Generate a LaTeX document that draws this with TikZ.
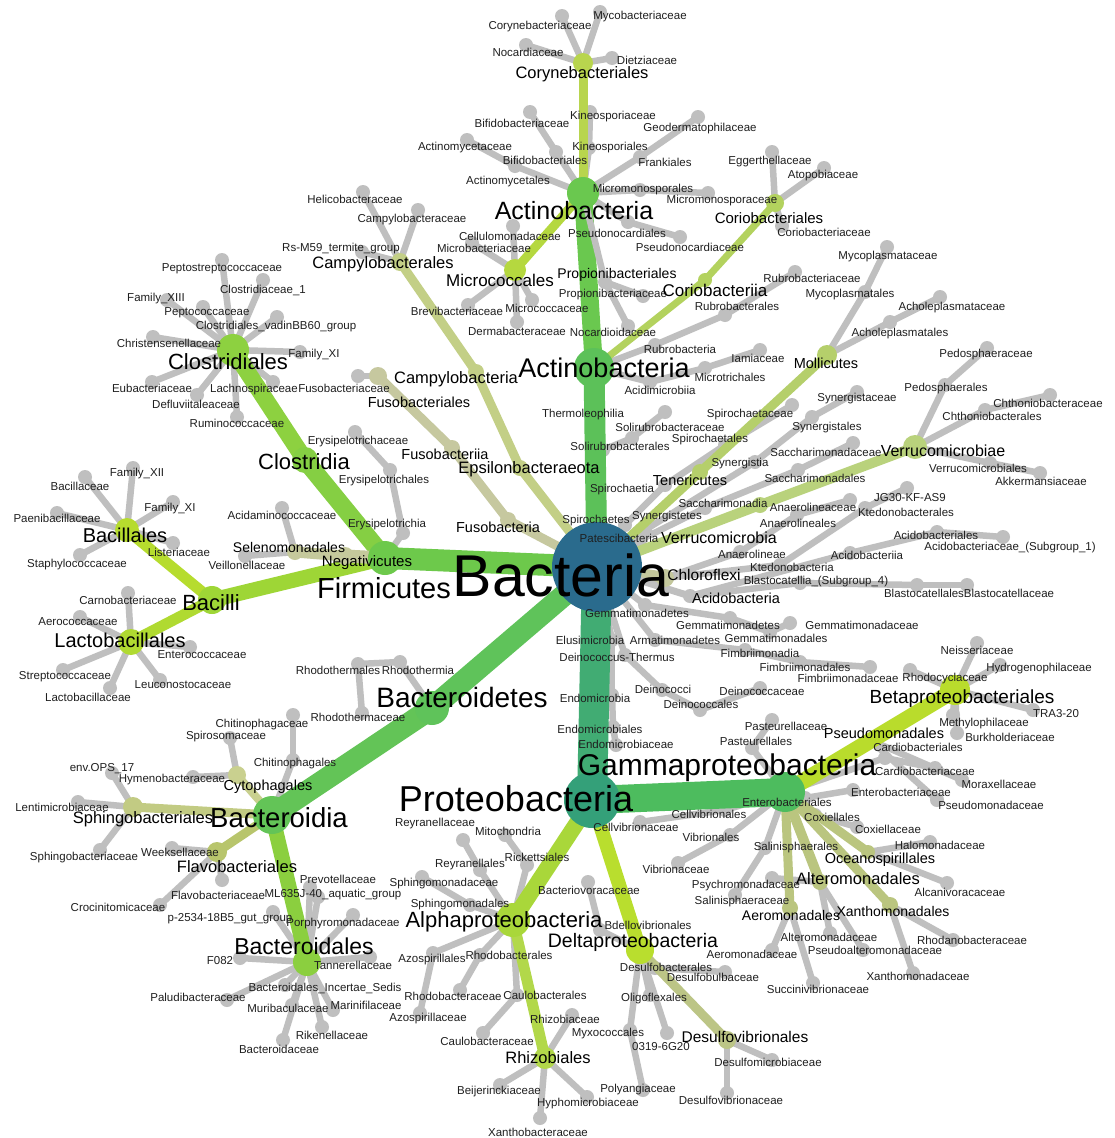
\documentclass[tikz,border=0pt]{standalone}
\usepackage{fontspec}
\setmainfont{Liberation Sans}
\pgfdeclarelayer{grey}
\pgfdeclarelayer{green}
\pgfsetlayers{grey,green,main}
\definecolor{leafgrey}{HTML}{BFBFBF}
\definecolor{cBac}{HTML}{2A6B8D}
\definecolor{cP1}{HTML}{5CC159}
\definecolor{cP2}{HTML}{6AC84F}
\definecolor{cYG1}{HTML}{B8D54E}
\definecolor{cYG2}{HTML}{B5D83F}
\definecolor{cYG3}{HTML}{B3D25E}
\definecolor{cF1}{HTML}{6DC94B}
\definecolor{cF2}{HTML}{85CF43}
\definecolor{cF3}{HTML}{8DD140}
\definecolor{cF4}{HTML}{9ED636}
\definecolor{cF5}{HTML}{B6DC2E}
\definecolor{cF6}{HTML}{B0DA31}
\definecolor{cKh1}{HTML}{C5C99C}
\definecolor{cB1}{HTML}{5FC35A}
\definecolor{cB2}{HTML}{63C457}
\definecolor{cB3}{HTML}{8BCF3F}
\definecolor{cKh2}{HTML}{C9D08F}
\definecolor{cKh3}{HTML}{C2CB83}
\definecolor{cKh4}{HTML}{B8C56C}
\definecolor{cPr0}{HTML}{34A079}
\definecolor{cPr1}{HTML}{41AC73}
\definecolor{cPr2}{HTML}{4DBC5E}
\definecolor{cYG4}{HTML}{B9DC2C}
\definecolor{cOl}{HTML}{BAC57F}
\definecolor{cYG5}{HTML}{A9D73A}
\definecolor{cYG6}{HTML}{B2D84A}
\definecolor{cYG7}{HTML}{B9DE2E}
\definecolor{cOl2}{HTML}{BCC586}
\definecolor{cKh5}{HTML}{C3CF86}
\definecolor{cKh6}{HTML}{C6C89F}
\definecolor{cYG8}{HTML}{B5CF6B}
\definecolor{cYG9}{HTML}{B9D27C}
\definecolor{cKh7}{HTML}{C3C79C}
\tikzset{
  fam/.style={font=\fontsize{11.5}{12}\selectfont, text=black!88, inner sep=0pt, text depth=0pt},
  lab/.style={font=\fontsize{#1}{#1}\selectfont, text=black, inner sep=0pt, text depth=0pt},
  gedge/.style={draw=leafgrey, line width=6.5pt, line cap=round},
}

\begin{document}
\begin{tikzpicture}[x=1pt,y=-1pt]
    \useasboundingbox (0,0) rectangle (1114,1138);
    \begin{pgfonlayer}{grey}
        \fill[white] (0,0) rectangle (1114,1138);
    \end{pgfonlayer}
    \foreach \n/\x/\y in {bac/597/567, actp/594/368, actc/583/193, cory/583/63, micro/515/270,
        prpl/605/282, corc/705/280, cors/775/203, firm/385/558, clos/305/460, closl/233/350,
        bacil/212/600, bacl/127/530, lacto/131/642, neg/345/556, selen/295/552, bact/432/708,
        bcd/272/815, cyto/237/775, sphl/133/807, flav/217/852, bcdl/307/962, prot/592/800,
        gam/785/792, beta/955/690, pseu/870/740, ocea/868/852, alte/820/882, xant/890/905,
        aero/790/908, alph/513/920, rhiz/545/1058, delt/640/950, dsv/727/1040, eps/520/468,
        cmpa/476/372, cmpl/400/262, fusp/508/520, fusc/452/448, fuso/378/376, ten/700/472,
        moll/827/355, verp/760/505, verc/915/447, chlf/665/578, acdp/690/596} {
        \coordinate (\n) at (\x,\y);
    }
    \foreach \n/\x/\y/\lx/\ly/\lbl in {
        kinc/590/112/613/115/Kineosporiaceae, kinl/589/148/610/146/Kineosporiales,
        bifc/530/112/522/123/Bifidobacteriaceae, bifl/556/152/545/160/Bifidobacteriales,
        acmc/467/140/465/146/Actinomycetaceae, acml/515/166/508/180/Actinomycetales,
        geoc/698/117/700/127/Geodermatophilaceae, frkl/640/157/665/162/Frankiales,
        mmsc/708/193/722/199/Micromonosporaceae, mmsl/640/190/643/188/Micromonosporales,
        psnc/680/237/690/247/Pseudonocardiaceae, psnl/628/222/617/233/Pseudonocardiales,
        prpc/643/296/613/293/Propionibacteriaceae, nocd/628/326/613/332/Nocardioidaceae,
        cryc/562/16/540/25/Corynebacteriaceae, mycc/600/12/640/15/Mycobacteriaceae,
        nocc/526/45/528/52/Nocardiaceae, dtzc/612/58/647/60/Dietziaceae,
        celc/513/226/510/236/Cellulomonadaceae, mcbc/472/243/484/248/Microbacteriaceae,
        brvc/468/305/457/311/Brevibacteriaceae, mccc/532/300/547/308/Micrococcaceae,
        derc/517/322/517/331/Dermabacteraceae,
        eggc/772/152/770/160/Eggerthellaceae, atpc/824/168/823/174/Atopobiaceae,
        corf/782/226/824/232/Coriobacteriaceae,
        rubc/655/345/680/349/Rubrobacteria, rubl/725/315/737/306/Rubrobacterales,
        rubf/795/272/812/278/Rubrobacteriaceae,
        acmi/650/382/660/390/Acidimicrobiia, mtrl/705/368/730/377/Microtrichales,
        iamc/760/350/758/358/Iamiaceae,
        thlc/603/450/583/413/Thermoleophilia, slrl/632/438/620/446/Solirubrobacterales,
        slrf/665/412/670/427/Solirubrobacteraceae,
        helc/363/192/355/199/Helicobacteraceae, cmpf/418/210/412/218/Campylobacteraceae,
        rsmg/362/252/341/247/Rs-M59\_termite\_group, fusf/358/376/344/388/Fusobacteriaceae,
        f13c/167/300/156/297/Family\_XIII, pepc/203/307/207/312/Peptococcaceae,
        cl1c/263/280/263/289/Clostridiaceae\_1, ppsc/222/260/222/268/Peptostreptococcaceae,
        vadg/277/317/276/325/Clostridiales\_vadinBB60\_group, chrc/153/337/169/343/Christensenellaceae,
        f11c/300/352/314/353/Family\_XI, eubc/152/382/152/388/Eubacteriaceae,
        lchc/273/382/254/388/Lachnospiraceae, dflc/197/395/196/404/Defluviitaleaceae,
        rumc/237/417/237/423/Ruminococcaceae,
        eryc/403/533/387/523/Erysipelotrichia, eryl/390/470/384/479/Erysipelotrichales,
        eryf/355/432/358/440/Erysipelotrichaceae,
        amcf/282/508/282/515/Acidaminococcaceae, veif/245/556/247/565/Veillonellaceae,
        f12b/133/468/137/472/Family\_XII, bclf/85/477/80/486/Bacillaceae,
        f11b/173/502/170/507/Family\_XI, paef/57/513/57/518/Paenibacillaceae,
        lstf/173/543/179/552/Listeriaceae, stpf/80/555/77/563/Staphylococcaceae,
        crnf/128/593/128/600/Carnobacteriaceae, arcf/80/617/78/622/Aerococcaceae,
        entc/190/647/202/655/Enterococcaceae, strf/63/670/65/675/Streptococcaceae,
        leuf/160/680/183/685/Leuconostocaceae, lacf/110/688/88/697/Lactobacillaceae,
        rtia/400/662/418/670/Rhodothermia, rtl/358/664/338/670/Rhodothermales,
        rtf/362/713/358/717/Rhodothermaceae,
        spsf/230/738/226/735/Spirosomaceae, hymf/193/777/172/778/Hymenobacteraceae,
        chif/293/715/262/723/Chitinophagaceae, chil/293/760/295/762/Chitinophagales,
        envo/112/773/102/767/env.OPS\_17, lenf/78/802/62/807/Lentimicrobiaceae,
        sphf/100/850/84/856/Sphingobacteriaceae,
        weef/172/848/180/852/Weeksellaceae, flvf/222/880/218/895/Flavobacteriaceae,
        crof/160/905/118/907/Crocinitomicaceae,
        prvf/310/887/338/879/Prevotellaceae, mlag/318/897/333/893/ML635J-40\_aquatic\_group,
        pgut/273/912/230/917/p-2534-18B5\_gut\_group, porf/353/915/343/922/Porphyromonadaceae,
        f082/240/958/220/960/F082, tanf/370/957/353/965/Tannerellaceae,
        palf/227/1000/198/997/Paludibacteraceae, bisf/285/985/325/987/Bacteroidales\_Incertae\_Sedis,
        murf/292/1005/288/1008/Muribaculaceae, marf/333/1010/366/1005/Marinifilaceae,
        rikf/322/1027/332/1035/Rikenellaceae, bcdf/283/1040/279/1049/Bacteroidaceae,
        pasf/772/720/786/726/Pasteurellaceae, pasl/752/748/756/741/Pasteurellales,
        crdl/885/758/918/747/Cardiobacteriales, crdf/935/768/925/771/Cardiobacteriaceae,
        entl/805/798/787/802/Enterobacteriales, entf/853/790/901/792/Enterobacteriaceae,
        morf/962/780/999/784/Moraxellaceae, psdf/937/800/991/805/Pseudomonadaceae,
        coxl/815/815/832/817/Coxiellales, coxf/857/827/888/829/Coxiellaceae,
        half/930/842/940/845/Halomonadaceae, alcf/947/883/960/892/Alcanivoracaceae,
        sall/765/848/796/846/Salinisphaerales, salf/735/895/742/900/Salinisphaeraceae,
        psyf/772/878/746/884/Psychromonadaceae, altf/830/933/829/937/Alteromonadaceae,
        psaf/863/950/875/950/Pseudoalteromonadaceae, aerf/772/950/752/954/Aeromonadaceae,
        sucf/813/983/818/989/Succinivibrionaceae, rhdf/953/940/972/940/Rhodanobacteraceae,
        xanf/913/973/918/976/Xanthomonadaceae,
        vibl/730/835/711/837/Vibrionales, vibf/678/863/676/869/Vibrionaceae,
        cvbl/725/810/709/814/Cellvibrionales, cvbf/640/822/636/827/Cellvibrionaceae,
        neif/977/643/977/650/Neisseriaceae, hydf/1000/665/1039/667/Hydrogenophilaceae,
        rhcf/910/670/945/677/Rhodocyclaceae, traf/1033/710/1056/713/TRA3-20,
        mtyf/953/715/984/722/Methylophilaceae, burf/957/733/1010/737/Burkholderiaceae,
        rckl/527/865/537/857/Rickettsiales, mitf/505/835/508/831/Mitochondria,
        reyl/480/870/470/863/Reyranellales, reyf/463/840/435/822/Reyranellaceae,
        spml/470/905/460/903/Sphingomonadales, spmf/422/877/444/882/Sphingomonadaceae,
        azsl/433/953/432/958/Azospirillales, azsf/420/1013/428/1017/Azospirillaceae,
        rhbl/480/955/509/955/Rhodobacterales, rhbf/460/990/453/996/Rhodobacteraceae,
        caul/517/995/545/995/Caulobacterales, cauf/483/1033/487/1041/Caulobacteraceae,
        rhzf/572/1015/565/1019/Rhizobiaceae, bejf/500/1085/499/1090/Beijerinckiaceae,
        hypf/587/1097/588/1102/Hyphomicrobiaceae, xnbf/540/1118/538/1132/Xanthobacteraceae,
        bdvf/588/882/589/890/Bacteriovoracaceae, bdvl/600/930/648/925/Bdellovibrionales,
        dsbl/655/968/666/967/Desulfobacterales, dsbf/725/972/713/977/Desulfobulbaceae,
        oglf/650/995/654/997/Oligoflexales, myxl/630/1030/608/1032/Myxococcales,
        plyf/643/1090/638/1088/Polyangiaceae, x062/667/1033/661/1046/0319-6G20,
        dsmf/772/1060/768/1062/Desulfomicrobiaceae, dsvf/727/1093/731/1100/Desulfovibrionaceae,
        spp/625/525/596/519/Spirochaetes, spc/665/485/622/488/Spirochaetia,
        spl/725/445/710/438/Spirochaetales, spf/792/405/750/413/Spirochaetaceae,
        syp/645/530/667/515/Synergistetes, syc/755/462/740/462/Synergistia,
        syl/812/417/827/426/Synergistales, syf/857/392/857/397/Synergistaceae,
        pat/640/540/619/538/Patescibacteria, sac/705/508/723/503/Saccharimonadia,
        sacl/798/470/815/478/Saccharimonadales, sacf/853/443/826/452/Saccharimonadaceae,
        anac/740/552/752/554/Anaerolineae, anal/797/515/798/523/Anaerolineales,
        anaf/850/500/813/507/Anaerolineaceae,
        ktd/780/565/792/567/Ktedonobacteria, ktdl/865/508/906/512/Ktedonobacterales,
        jg30/907/488/910/497/JG30-KF-AS9,
        acdc/850/553/867/555/Acidobacteriia, acdl/937/532/936/535/Acidobacteriales,
        acdf/1003/537/1010/546/Acidobacteriaceae\_(Subgroup\_1),
        blc/800/583/816/580/Blastocatellia\_(Subgroup\_4), bll/917/585/924/593/Blastocatellales,
        blf/967/585/1009/593/Blastocatellaceae,
        gmp/645/605/637/613/Gemmatimonadetes, gmc/730/618/728/625/Gemmatimonadetes,
        gml/770/632/776/638/Gemmatimonadales, gmf/790/623/862/625/Gemmatimonadaceae,
        arp/655/640/675/640/Armatimonadetes, fmc/745/650/760/653/Fimbriimonadia,
        fml/800/662/805/667/Fimbriimonadales, fmf/870/667/848/678/Fimbriimonadaceae,
        elp/612/640/590/640/Elusimicrobia, endc/612/695/595/698/Endomicrobia,
        endl/613/727/600/729/Endomicrobiales, endf/616/745/626/744/Endomicrobiaceae,
        dtp/625/655/617/657/Deinococcus-Thermus, dnc/662/690/663/689/Deinococci,
        dnl/700/710/701/704/Deinococcales, dnf/760/688/762/691/Deinococcaceae,
        mycl/865/292/850/293/Mycoplasmatales, mycf/887/247/888/255/Mycoplasmataceae,
        achl/890/322/900/332/Acholeplasmatales, achf/940/297/952/306/Acholeplasmataceae,
        pdsl/945/385/946/387/Pedosphaerales, pdsf/987/348/986/353/Pedosphaeraceae,
        chtl/985/410/992/416/Chthoniobacterales, chtf/1050/395/1048/403/Chthoniobacteraceae,
        vrrl/990/463/978/468/Verrucomicrobiales, akkf/1040/473/1041/481/Akkermansiaceae} {
        \coordinate (\n) at (\x,\y);
        \begin{pgfonlayer}{grey}
            \fill[leafgrey] (\n) circle[radius=7pt];
        \end{pgfonlayer}
        \node[fam] (\n-t) at (\lx,\ly) {\lbl};
    }
    \begin{pgfonlayer}{grey}
        \foreach \a/\b in {actc/kinl, kinl/kinc, actc/bifl, bifl/bifc, actc/acml, acml/acmc,
            actc/frkl, frkl/geoc, actc/mmsl, mmsl/mmsc, actc/psnl, psnl/psnc, prpl/prpc, prpl/nocd,
            cory/cryc, cory/mycc, cory/nocc, cory/dtzc, micro/celc, micro/mcbc, micro/brvc,
            micro/mccc, micro/derc, cors/eggc, cors/atpc, cors/corf, actp/rubc, rubc/rubl,
            rubl/rubf, actp/acmi, acmi/mtrl, mtrl/iamc, actp/thlc, thlc/slrl, slrl/slrf,
            cmpl/helc, cmpl/cmpf, cmpl/rsmg, fuso/fusf,
            closl/f13c, closl/pepc, closl/cl1c, closl/ppsc, closl/vadg, closl/chrc, closl/f11c,
            closl/eubc, closl/lchc, closl/dflc, closl/rumc, firm/eryc, eryc/eryl, eryl/eryf,
            selen/amcf, selen/veif, bacl/f12b, bacl/bclf, bacl/f11b, bacl/paef, bacl/lstf,
            bacl/stpf, lacto/crnf, lacto/arcf, lacto/entc, lacto/strf, lacto/leuf, lacto/lacf,
            bact/rtia, rtia/rtl, rtl/rtf, cyto/spsf, cyto/hymf, bcd/chil, chil/chif,
            sphl/envo, sphl/lenf, sphl/sphf, flav/weef, flav/flvf, flav/crof,
            bcdl/prvf, bcdl/mlag, bcdl/pgut, bcdl/porf, bcdl/f082, bcdl/tanf, bcdl/palf,
            bcdl/bisf, bcdl/murf, bcdl/marf, bcdl/rikf, bcdl/bcdf,
            gam/pasl, pasl/pasf, gam/crdl, crdl/crdf, gam/entl, entl/entf, pseu/morf,
            pseu/psdf, gam/coxl, coxl/coxf, ocea/half, ocea/alcf, gam/sall, sall/salf,
            alte/psyf, alte/altf, alte/psaf, aero/aerf, aero/sucf, xant/rhdf, xant/xanf,
            gam/vibl, vibl/vibf, gam/cvbl, cvbl/cvbf, beta/neif, beta/hydf, beta/rhcf,
            beta/traf, beta/mtyf, beta/burf,
            alph/rckl, rckl/mitf, alph/reyl, reyl/reyf, alph/spml, spml/spmf, alph/azsl,
            azsl/azsf, alph/rhbl, rhbl/rhbf, alph/caul, caul/cauf, rhiz/rhzf, rhiz/bejf,
            rhiz/hypf, rhiz/xnbf, delt/bdvl, bdvl/bdvf, delt/dsbl, dsbl/dsbf, delt/oglf,
            delt/myxl, myxl/plyf, delt/x062, dsv/dsmf, dsv/dsvf,
            bac/spp, spp/spc, spc/spl, spl/spf, bac/syp, syp/syc, syc/syl, syl/syf,
            bac/pat, pat/sac, sac/sacl, sacl/sacf, chlf/anac, anac/anal, anal/anaf,
            chlf/ktd, ktd/ktdl, ktdl/jg30, acdp/acdc, acdc/acdl, acdl/acdf, acdp/blc,
            blc/bll, bll/blf, bac/gmp, gmp/gmc, gmc/gml, gml/gmf, bac/arp, arp/fmc,
            fmc/fml, fml/fmf, bac/elp, elp/endc, endc/endl, endl/endf, bac/dtp, dtp/dnc,
            dnc/dnl, dnl/dnf, moll/mycl, mycl/mycf, moll/achl, achl/achf, verc/pdsl,
            pdsl/pdsf, verc/chtl, chtl/chtf, verc/vrrl, vrrl/akkf} {
            \draw[gedge] (\a) -- (\b);
        }
    \end{pgfonlayer}
    \begin{pgfonlayer}{green}
        \foreach \a/\b/\w/\c in {bac/actp/21/cP1, actp/actc/18/cP2, actc/cory/9/cYG1,
            actc/micro/9/cYG2, actc/prpl/6.5/leafgrey, actp/corc/7/cYG3, corc/cors/7/cYG3,
            bac/firm/22/cF1, firm/clos/18/cF2, clos/closl/17/cF3, firm/bacil/15/cF4,
            bacil/bacl/11/cF5, bacil/lacto/11/cF6, firm/neg/13/cKh1, neg/selen/11/cKh1,
            bac/bact/22/cB1, bact/bcd/22/cB2, bcd/cyto/8/cKh2, bcd/sphl/9/cKh3,
            bcd/flav/9/cKh4, bcd/bcdl/15/cB3, bac/prot/30/cPr1, prot/gam/28/cPr2,
            gam/beta/16/cYG4, gam/pseu/10/cYG4, gam/ocea/9/cOl, gam/alte/10/cOl,
            gam/xant/9/cOl, gam/aero/9/cOl, prot/alph/16/cYG5, alph/rhiz/11/cYG6,
            prot/delt/14/cYG7, delt/dsv/9/cOl2, bac/eps/9/cKh5, eps/cmpa/9/cKh5,
            cmpa/cmpl/9/cKh5, bac/fusp/9/cKh6, fusp/fusc/9/cKh6, fusc/fuso/9/cKh6,
            bac/ten/9/cYG8, ten/moll/9/cYG8, bac/verp/10/cYG9, verp/verc/10/cYG9,
            bac/chlf/12/cKh7, bac/acdp/7/leafgrey} {
            \draw[line width=\w, draw=\c, line cap=round] (\a) -- (\b);
        }
        \foreach \n/\r/\c in {actp/20/cP1, actc/16/cP2, cory/10/cYG1, micro/11/cYG2,
            prpl/7/leafgrey, corc/7/cYG3, cors/9/cYG3, firm/17/cF1, clos/13/cF2,
            closl/16/cF3, bacil/14/cF4, bacl/12/cF5, lacto/13/cF6, neg/9/cKh1,
            selen/8/cKh1, bact/17/cB1, bcd/19/cB2, cyto/9/cKh2, sphl/10/cKh3,
            flav/10/cKh4, bcdl/14/cB3, prot/28/cPr0, gam/20/cPr2, beta/15/cYG4,
            pseu/7/cYG4, ocea/7/cOl, alte/8/cOl, xant/8/cOl, aero/8/cOl, alph/17/cYG5,
            rhiz/11/cYG6, delt/14/cYG7, dsv/9/cOl2, eps/8/cKh5, cmpa/8/cKh5,
            cmpl/9/cKh5, fusp/8/cKh6, fusc/8/cKh6, fuso/9/cKh6, ten/8/cYG8,
            moll/10/cYG8, verp/8/cYG9, verc/12/cYG9, chlf/9/cKh7, acdp/7/leafgrey,
            bac/45/cBac} {
            \fill[fill=\c] (\n) circle[radius=\r pt];
        }
    \end{pgfonlayer}
    \foreach \n/\x/\y/\s/\lbl in {bac/561/575/59/Bacteria, actp/604/368/27/Actinobacteria,
        actc/574/210/25/Actinobacteria, cory/582/73/16.5/Corynebacteriales,
        micro/500/280/17/Micrococcales, prpl/617/273/14/Propionibacteriales,
        corc/715/290/17/Coriobacteriia, cors/769/218/15/Coriobacteriales,
        firm/384/588/29/Firmicutes, clos/304/462/22/Clostridia, closl/228/362/22/Clostridiales,
        bacil/211/603/22/Bacilli, bacl/125/535/20/Bacillales, lacto/120/640/20/Lactobacillales,
        neg/367/561/15/Negativicutes, selen/289/547/14/Selenomonadales,
        bact/462/697/28/Bacteroidetes, bcd/279/818/27.5/Bacteroidia,
        cyto/268/785/14.5/Cytophagales, sphl/143/818/16.5/Sphingobacteriales,
        flav/237/867/16.5/Flavobacteriales, bcdl/304/946/23/Bacteroidales,
        prot/516/798/36/Proteobacteria, gam/727/765/30/Gammaproteobacteria,
        beta/962/697/19/Betaproteobacteriales, pseu/884/733/14.5/Pseudomonadales,
        ocea/880/858/14.5/Oceanospirillales, alte/858/879/16.5/Alteromonadales,
        xant/893/911/14/Xanthomonadales, aero/791/915/14/Aeromonadales,
        alph/504/920/22/Alphaproteobacteria, rhiz/548/1058/16.5/Rhizobiales,
        delt/633/940/19.5/Deltaproteobacteria, dsv/745/1037/15.5/Desulfovibrionales,
        eps/529/468/16.5/Epsilonbacteraeota, cmpa/456/378/16.5/Campylobacteria,
        cmpl/383/263/16.5/Campylobacterales, fusp/498/527/14.5/Fusobacteria,
        fusc/445/454/14.5/Fusobacteriia, fuso/419/402/14.5/Fusobacteriales,
        ten/690/480/14.5/Tenericutes, moll/826/363/14.5/Mollicutes,
        verp/719/538/16/Verrucomicrobia, verc/943/451/16/Verrucomicrobiae,
        chlf/704/575/15.5/Chloroflexi, acdp/736/598/14.5/Acidobacteria} {
        \node[lab=\s] (\n-t) at (\x,\y) {\lbl};
    }
\end{tikzpicture}
\end{document}
